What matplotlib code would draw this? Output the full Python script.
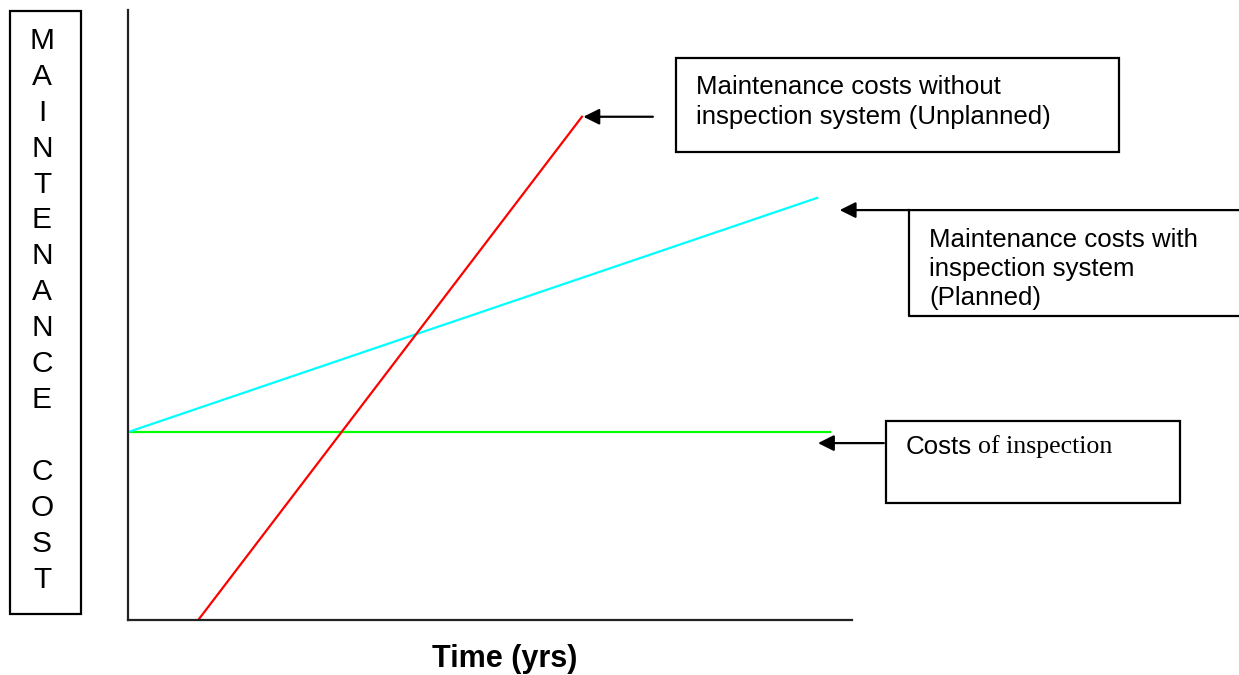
'''
Maintenance cost vs time: planned vs unplanned maintenance (schematic)
'''

import matplotlib
matplotlib.use('Agg')
import matplotlib.pyplot as plt
from matplotlib.patches import Rectangle

# data (schematic units: time 0..10, cost 0..10)
insp_time = [0.0, 9.70]
insp_cost = [3.08, 3.08]
planned_time = [0.0, 9.52]
planned_cost = [3.08, 6.92]
unplanned_time = [0.97, 6.27]
unplanned_cost = [0.0, 8.25]

y_letters = ['M', 'A', 'I', 'N', 'T', 'E', 'N', 'A', 'N', 'C', 'E', '', 'C', 'O', 'S', 'T']
box1_text = 'Maintenance costs without\ninspection system (Unplanned)'
box2_text = 'Maintenance costs with\ninspection system\n(Planned)'
x_label = 'Time (yrs)'

W, H = 1239, 675
sans = 'Liberation Sans'
serif = 'Liberation Serif'
fs = 18.6

fig = plt.figure(figsize=(W / 100, H / 100), dpi=100)

# overlay in pixel coordinates for boxes and text
ov = fig.add_axes([0, 0, 1, 1])
ov.set_xlim(0, W); ov.set_ylim(H, 0)
ov.axis('off')

# main chart axes
ax = fig.add_axes([128 / W, (H - 620) / H, (852 - 128) / W, (620 - 10) / H])
ax.set_xlim(0, 10); ax.set_ylim(0, 10)
ax.patch.set_alpha(0)
for s in ['top', 'right']:
    ax.spines[s].set_visible(False)
for s in ['left', 'bottom']:
    ax.spines[s].set_linewidth(1.6)
    ax.spines[s].set_color('#222222')
ax.set_xticks([]); ax.set_yticks([])

ax.plot(insp_time, insp_cost, color='#00ff00', lw=1.6)
ax.plot(planned_time, planned_cost, color='#00ffff', lw=1.6)
ax.plot(unplanned_time, unplanned_cost, color='#ff0000', lw=1.6)

arrow = dict(arrowstyle='-|>', color='black', lw=1.6, mutation_scale=24, shrinkA=0, shrinkB=0)
ax.annotate('', xy=(unplanned_time[1] + 0.02, unplanned_cost[1]), xytext=(7.25, unplanned_cost[1]),
            arrowprops=arrow, annotation_clip=False)
ax.annotate('', xy=(9.83, 6.72), xytext=(15.5, 6.72), arrowprops=arrow, annotation_clip=False)
ax.annotate('', xy=(9.53, 2.90), xytext=(10.44, 2.90), arrowprops=arrow, annotation_clip=False)

ov.text(505, 659, x_label, ha='center', va='center', fontsize=22, fontweight='bold', family=sans)

# y label box with stacked letters
ov.add_patch(Rectangle((10, 11), 71, 603, fill=False, lw=1.6, ec='black'))
for i, ch in enumerate(y_letters):
    ov.text(42, 41 + i * 35.9, ch, ha='center', va='center', fontsize=21.5, family=sans)

# box 1
ov.add_patch(Rectangle((676, 58), 443, 94, fill=False, lw=1.6, ec='black'))
ov.text(696, 102, box1_text, ha='left', va='center', fontsize=fs, family=sans, linespacing=1.28)

# box 2 (open to the right, top shared with arrow)
ov.plot([909, 909, W], [210, 316, 316], color='black', lw=1.6)
clip = Rectangle((909, 210), W - 909, 94, transform=ov.transData, visible=False)
ov.add_patch(clip)
t2 = ov.text(929, 269, box2_text, ha='left', va='center', fontsize=fs, family=sans, linespacing=1.28)
t2.set_clip_path(clip)

# box 3
ov.add_patch(Rectangle((886, 421), 294, 82, fill=False, lw=1.6, ec='black'))
ov.text(906, 447, 'Costs', ha='left', va='center', fontsize=fs, family=sans)
ov.text(978, 447, 'of inspection', ha='left', va='center', fontsize=fs, family=serif)

fig.savefig('out.png', dpi=100)
